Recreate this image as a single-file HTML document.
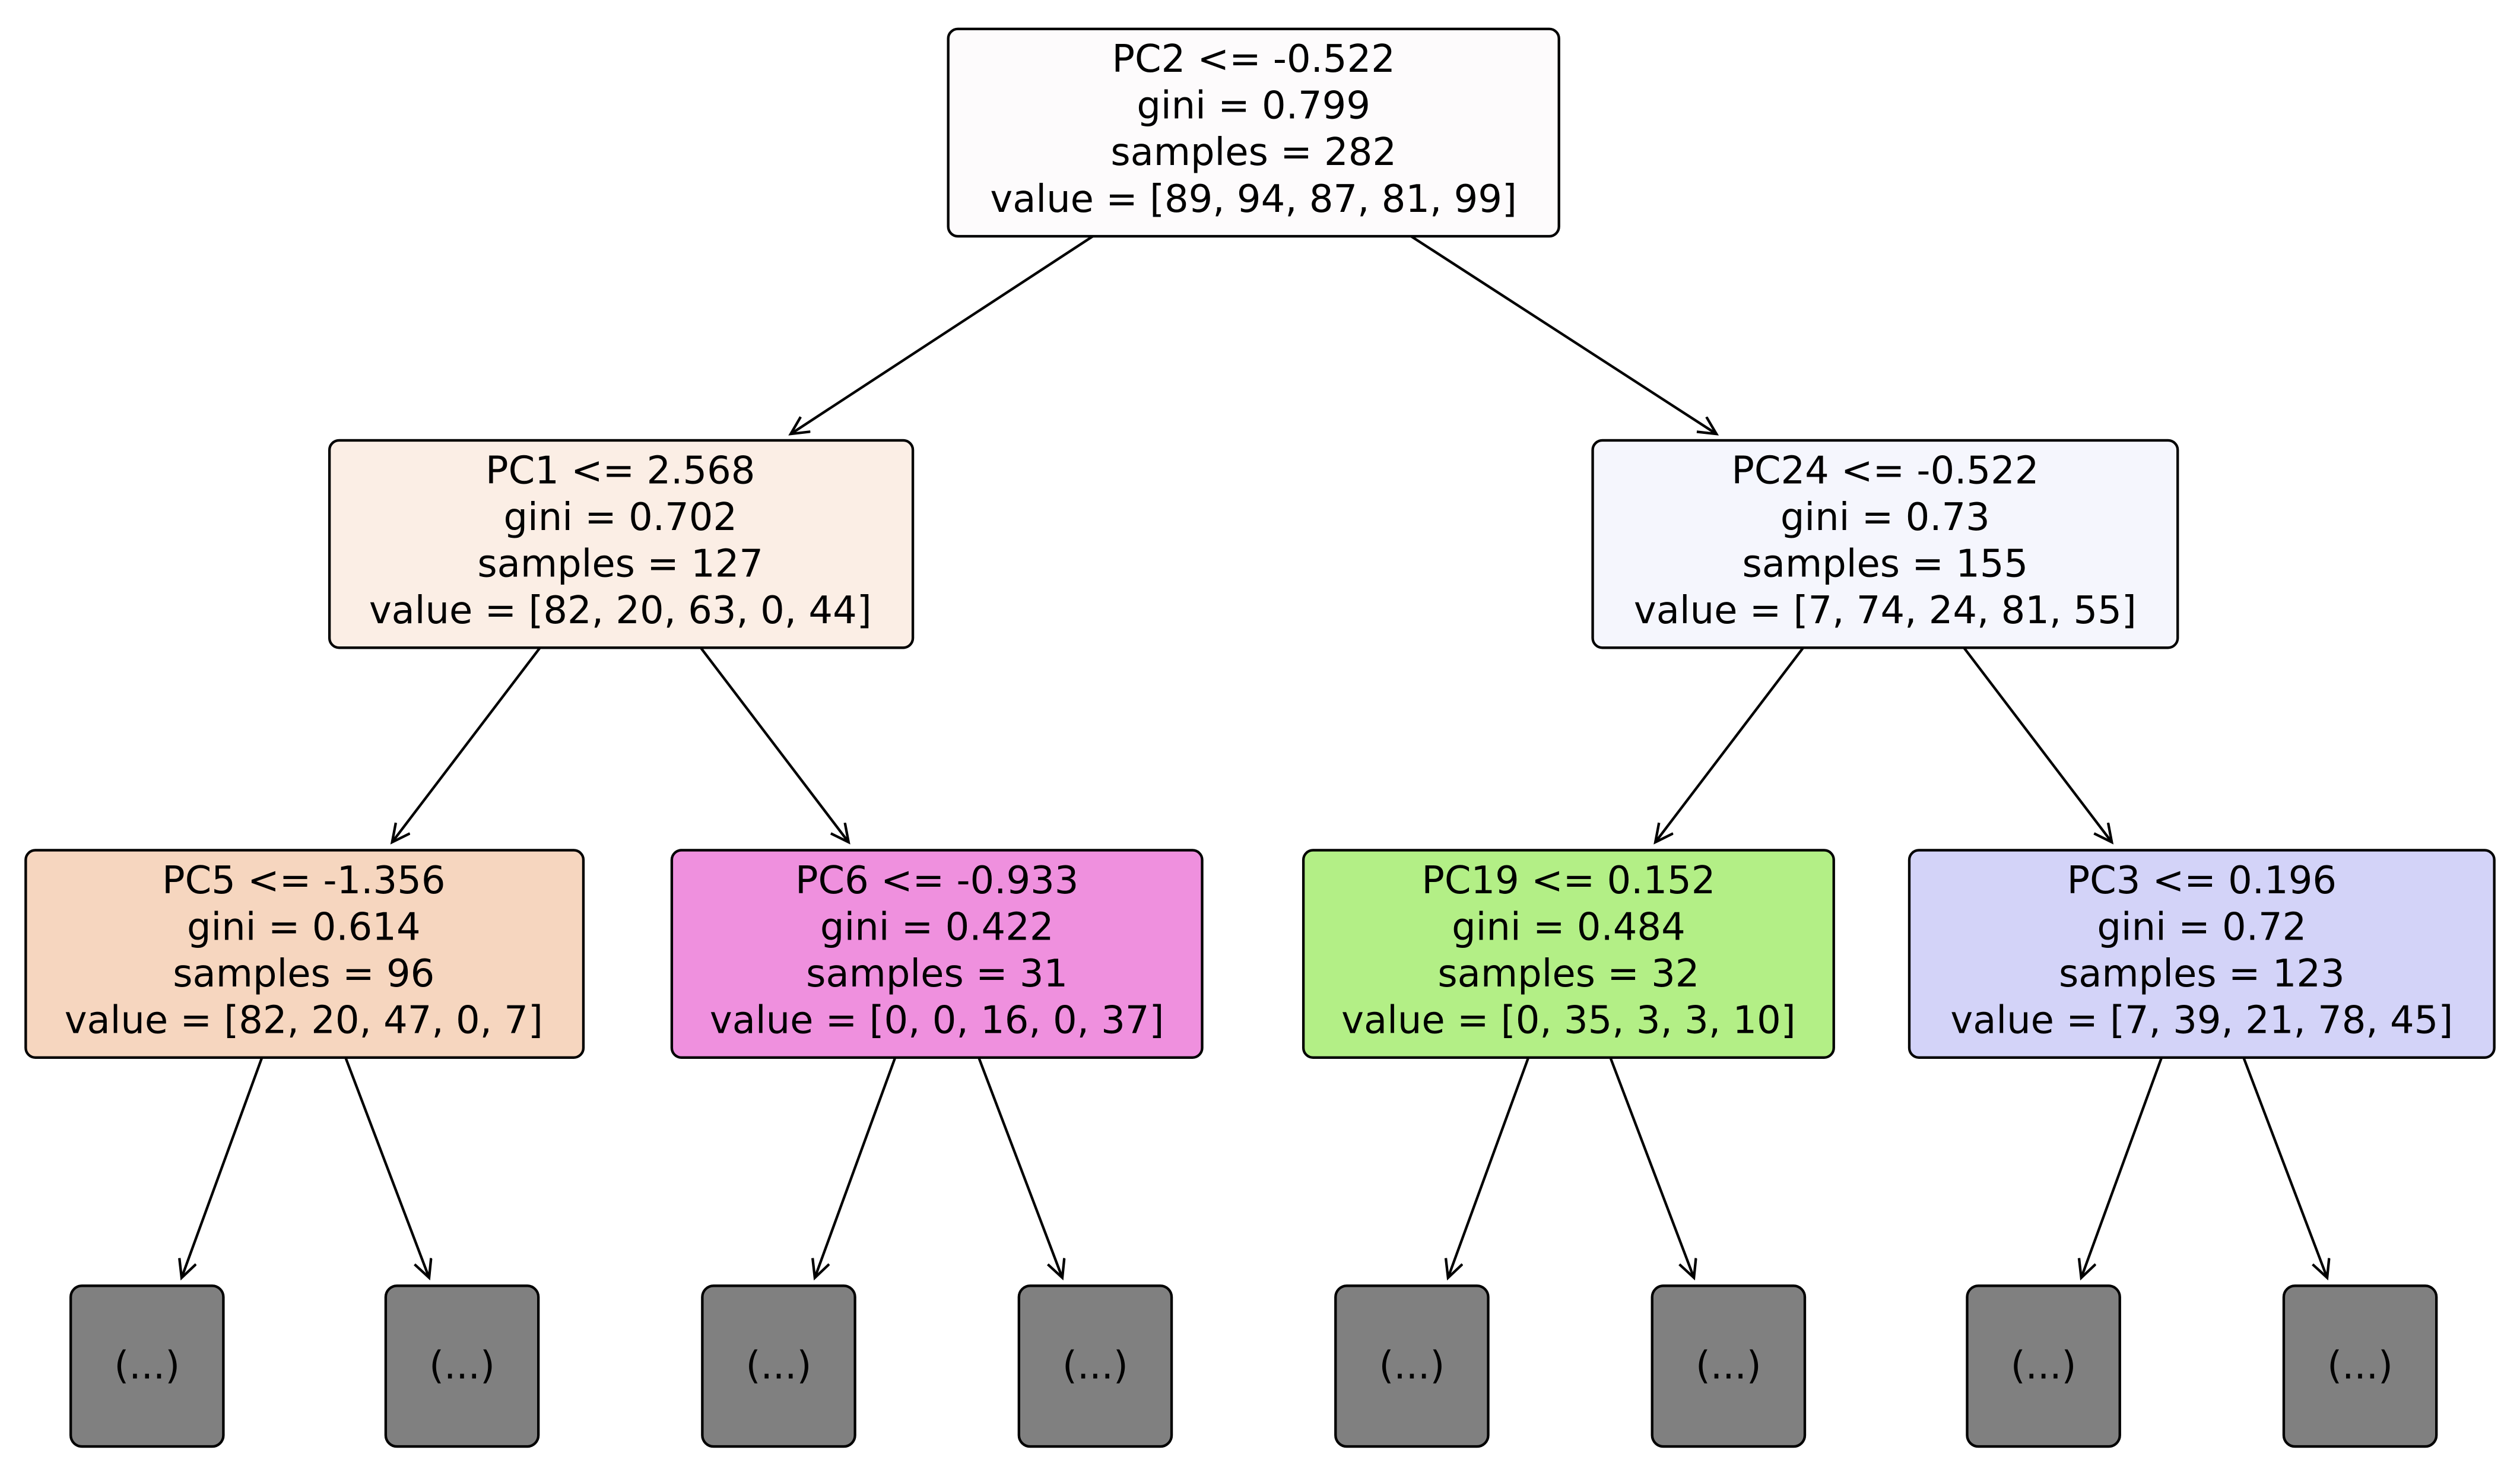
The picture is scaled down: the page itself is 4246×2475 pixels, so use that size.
<!DOCTYPE html>
<html><head><meta charset="utf-8"><style>
html,body{margin:0;padding:0;background:#fff;}
svg{display:block;}
text{font-family:"DejaVu Sans","Liberation Sans",sans-serif;font-size:23.6px;fill:#000;text-anchor:middle;dominant-baseline:central;}
.b{stroke:#000;stroke-width:1.6;}
.a{stroke:#000;stroke-width:1.6;fill:none;}
</style></head><body>
<svg width="4246" height="2475" viewBox="0 0 1568 914" preserveAspectRatio="none">
<defs>
<marker id="m" markerUnits="userSpaceOnUse" markerWidth="20" markerHeight="20" refX="12" refY="6" orient="auto">
<path d="M1,0.5 L12,6 L1,11.5" fill="none" stroke="#000" stroke-width="1.6"/>
</marker>
</defs>
<g class="a">
<line x1="680" y1="147" x2="492" y2="270" marker-end="url(#m)"/>
<line x1="878" y1="147" x2="1068" y2="270" marker-end="url(#m)"/>
<line x1="336" y1="403" x2="244" y2="524" marker-end="url(#m)"/>
<line x1="436" y1="403" x2="528" y2="524" marker-end="url(#m)"/>
<line x1="1122" y1="403" x2="1030" y2="524" marker-end="url(#m)"/>
<line x1="1222" y1="403" x2="1314" y2="524" marker-end="url(#m)"/>
<line x1="163" y1="658" x2="113" y2="795" marker-end="url(#m)"/>
<line x1="215" y1="658" x2="267" y2="795" marker-end="url(#m)"/>
<line x1="557" y1="658" x2="507" y2="795" marker-end="url(#m)"/>
<line x1="609" y1="658" x2="661" y2="795" marker-end="url(#m)"/>
<line x1="951" y1="658" x2="901" y2="795" marker-end="url(#m)"/>
<line x1="1002" y1="658" x2="1054" y2="795" marker-end="url(#m)"/>
<line x1="1345" y1="658" x2="1295" y2="795" marker-end="url(#m)"/>
<line x1="1396" y1="658" x2="1448" y2="795" marker-end="url(#m)"/>
</g>
<rect class="b" x="590" y="18" width="380" height="129" rx="6" fill="#fdfbfc"/>
<text x="780" y="37">PC2 &lt;= -0.522</text><text x="780" y="66">gini = 0.799</text><text x="780" y="95">samples = 282</text><text x="780" y="124">value = [89, 94, 87, 81, 99]</text>

<rect class="b" x="205" y="274" width="363" height="129" rx="6" fill="#fbeee5"/>
<text x="386" y="293">PC1 &lt;= 2.568</text><text x="386" y="322">gini = 0.702</text><text x="386" y="351">samples = 127</text><text x="386" y="380">value = [82, 20, 63, 0, 44]</text>

<rect class="b" x="991" y="274" width="364" height="129" rx="6" fill="#f5f6fd"/>
<text x="1173" y="293">PC24 &lt;= -0.522</text><text x="1173" y="322">gini = 0.73</text><text x="1173" y="351">samples = 155</text><text x="1173" y="380">value = [7, 74, 24, 81, 55]</text>

<rect class="b" x="16" y="529" width="347" height="129" rx="6" fill="#f6d6bf"/>
<text x="189" y="548">PC5 &lt;= -1.356</text><text x="189" y="577">gini = 0.614</text><text x="189" y="606">samples = 96</text><text x="189" y="635">value = [82, 20, 47, 0, 7]</text>

<rect class="b" x="418" y="529" width="330" height="129" rx="6" fill="#ef90de"/>
<text x="583" y="548">PC6 &lt;= -0.933</text><text x="583" y="577">gini = 0.422</text><text x="583" y="606">samples = 31</text><text x="583" y="635">value = [0, 0, 16, 0, 37]</text>

<rect class="b" x="811" y="529" width="330" height="129" rx="6" fill="#b3ef86"/>
<text x="976" y="548">PC19 &lt;= 0.152</text><text x="976" y="577">gini = 0.484</text><text x="976" y="606">samples = 32</text><text x="976" y="635">value = [0, 35, 3, 3, 10]</text>

<rect class="b" x="1188" y="529" width="364" height="129" rx="6" fill="#d3d3f8"/>
<text x="1370" y="548">PC3 &lt;= 0.196</text><text x="1370" y="577">gini = 0.72</text><text x="1370" y="606">samples = 123</text><text x="1370" y="635">value = [7, 39, 21, 78, 45]</text>

<g fill="#808080">
<rect class="b" x="44" y="800" width="95" height="100" rx="7"/><text x="91.5" y="850">(...)</text>
<rect class="b" x="240" y="800" width="95" height="100" rx="7"/><text x="287.5" y="850">(...)</text>
<rect class="b" x="437" y="800" width="95" height="100" rx="7"/><text x="484.5" y="850">(...)</text>
<rect class="b" x="634" y="800" width="95" height="100" rx="7"/><text x="681.5" y="850">(...)</text>
<rect class="b" x="831" y="800" width="95" height="100" rx="7"/><text x="878.5" y="850">(...)</text>
<rect class="b" x="1028" y="800" width="95" height="100" rx="7"/><text x="1075.5" y="850">(...)</text>
<rect class="b" x="1224" y="800" width="95" height="100" rx="7"/><text x="1271.5" y="850">(...)</text>
<rect class="b" x="1421" y="800" width="95" height="100" rx="7"/><text x="1468.5" y="850">(...)</text>
</g>
</svg>
</body></html>
